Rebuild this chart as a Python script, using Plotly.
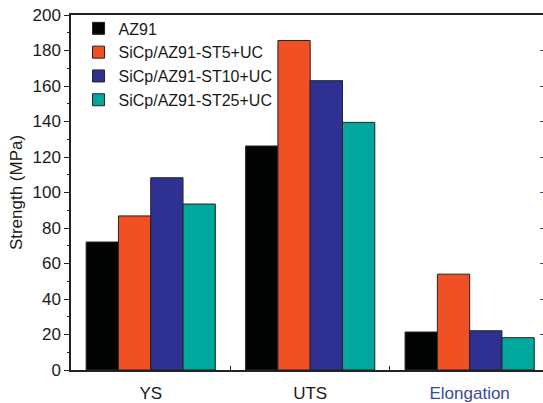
import plotly.graph_objects as go

categories = ["YS", "UTS", "Elongation"]
series_names = ["AZ91", "SiCp/AZ91-ST5+UC", "SiCp/AZ91-ST10+UC", "SiCp/AZ91-ST25+UC"]
az91 = [72.1, 126.2, 21.4]
st5 = [86.8, 185.6, 54.0]
st10 = [108.3, 163.0, 22.1]
st25 = [93.5, 139.5, 18.2]
colors = ["#020403", "#F05023", "#2E3192", "#00A79D"]
y_ticks = [0, 20, 40, 60, 80, 100, 120, 140, 160, 180, 200]
right_ticks = [20, 40, 60, 80, 100, 120, 140, 160, 180]
x_label_colors = ["#1a1a1a", "#1a1a1a", "#3A4A9C"]

FONT = "Liberation Sans, Arial, sans-serif"

fig = go.Figure()
for name, vals, col in zip(series_names, [az91, st5, st10, st25], colors):
    fig.add_trace(go.Bar(
        x=categories, y=vals, name=name,
        marker=dict(color=col, line=dict(color="#222222", width=1)),
    ))

fig.add_trace(go.Scatter(x=categories, y=[None, None, None], yaxis="y2",
                         showlegend=False, hoverinfo="skip", mode="markers"))

ticktext = [f'<span style="color:{c}">{t}</span>' for t, c in zip(categories, x_label_colors)]

fig.update_layout(
    width=543, height=403,
    margin=dict(l=71, r=0, t=15, b=33),
    paper_bgcolor="white", plot_bgcolor="white",
    barmode="group", bargap=0.19, bargroupgap=0,
    font=dict(family=FONT, color="#1a1a1a"),
    showlegend=True,
    legend=dict(x=0.016, y=1.01, xanchor="left", yanchor="top",
                bgcolor="rgba(0,0,0,0)", font=dict(size=16, family=FONT, color="#1a1a1a"),
                tracegroupgap=0, itemwidth=30),
    xaxis=dict(
        type="category", range=[-0.5, 2.46], automargin=False,
        tickmode="array", tickvals=categories, ticktext=ticktext,
        showline=True, linecolor="#222222", linewidth=1.5, mirror=True,
        tickson="boundaries", ticks="inside", ticklen=4, tickcolor="#222222", tickwidth=1,
        ticklabelstandoff=7,
        tickfont=dict(size=17, family=FONT, color="#1a1a1a"),
        showgrid=False, zeroline=False,
    ),
    yaxis=dict(
        range=[0, 200], tickvals=y_ticks, automargin=False,
        showline=True, linecolor="#222222", linewidth=1.5, mirror=False,
        ticks="outside", ticklen=5, tickcolor="#222222", tickwidth=1,
        minor=dict(ticks="outside", ticklen=2.5, dtick=10, tick0=0, tickcolor="#222222", showgrid=False),
        tickfont=dict(size=17, family=FONT, color="#1a1a1a"),
        title=dict(text="Strength (MPa)", font=dict(size=17, family=FONT, color="#1a1a1a"), standoff=6),
        showgrid=False, zeroline=False,
    ),
    yaxis2=dict(
        overlaying="y", anchor="x", side="right", automargin=False,
        range=[0, 200], tickvals=right_ticks, ticks="inside", ticklen=3,
        tickcolor="#3A4A9C", tickwidth=1, showticklabels=False,
        showline=False, showgrid=False, zeroline=False,
    ),
)

fig.write_html("out.html", config={"displayModeBar": False},
               post_script="document.body.style.margin='0';document.body.style.overflow='hidden';")
